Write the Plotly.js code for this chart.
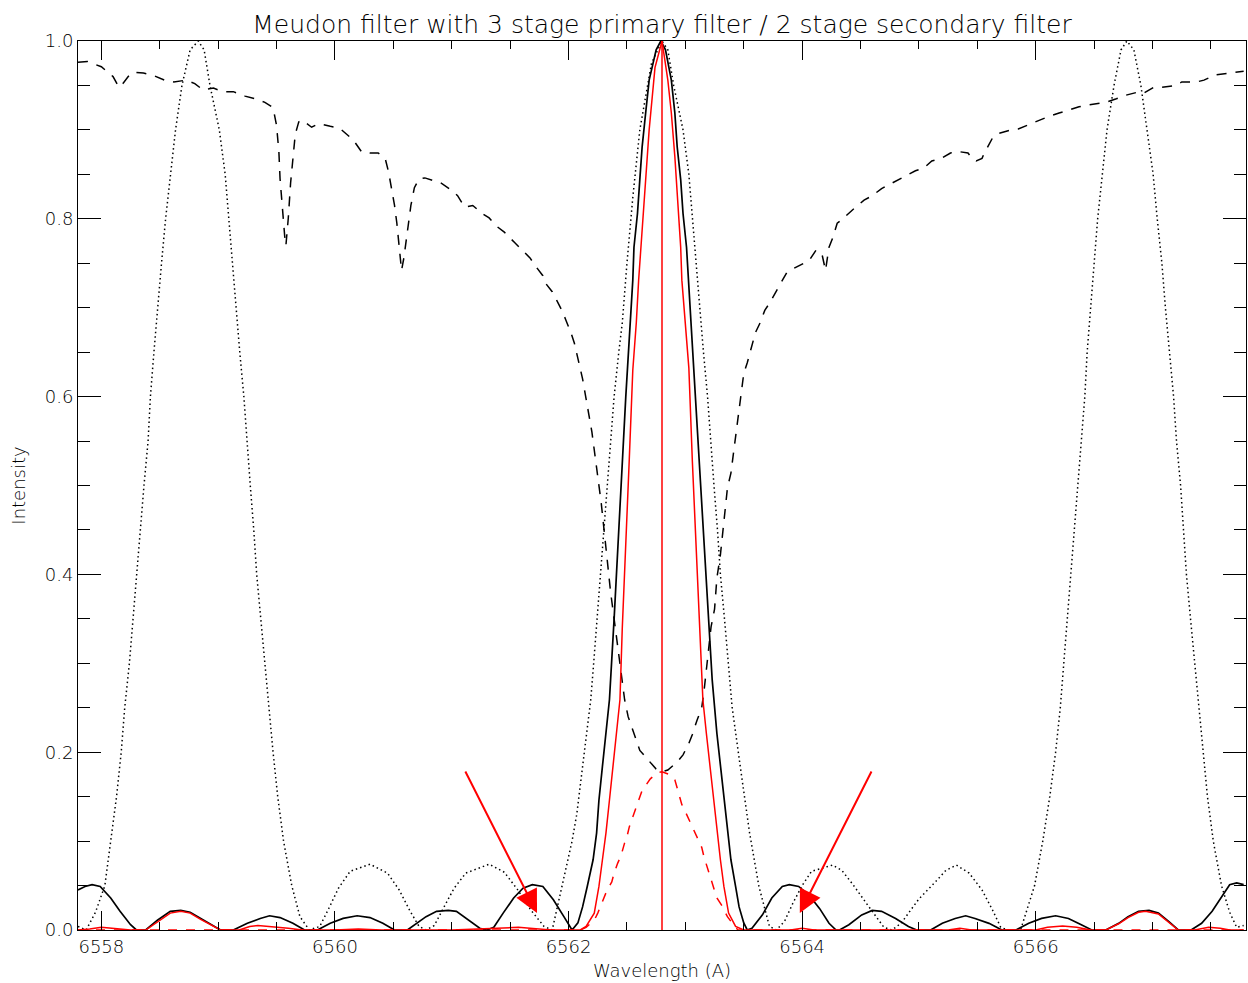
<!DOCTYPE html>
<html>
<head>
<meta charset="utf-8">
<script src="https://cdn.plot.ly/plotly-3.0.1.min.js"></script>
<style>
  html, body { margin: 0; padding: 0; background: #fff; }
  #chart { width: 1248px; height: 983px; }
</style>
</head>
<body>
<div id="chart"></div>
<script>
// ---------- Data ----------
// Secondary filter (2 stage) transmission - dotted black
const secondaryWl = [6557.80,6557.87,6557.95,6558.03,6558.08,6558.13,6558.17,6558.20,6558.24,6558.27,6558.305,6558.33,6558.365,6558.40,6558.42,6558.45,6558.48,6558.515,6558.55,6558.59,6558.635,6558.69,6558.76,6558.83,6558.88,6558.93,6559.01,6559.06,6559.09,6559.12,6559.15,6559.185,6559.22,6559.245,6559.275,6559.305,6559.33,6559.365,6559.40,6559.43,6559.47,6559.51,6559.56,6559.63,6559.70,6559.78,
  6559.87,6559.95,6560.03,6560.13,6560.30,6560.45,6560.55,6560.64,6560.72,6560.78,
  6560.85,6560.93,6561.02,6561.12,6561.32,6561.45,6561.56,6561.68,6561.79,6561.86,
  6561.92,6561.98,6562.03,6562.07,6562.12,6562.15,6562.19,6562.215,6562.245,6562.275,6562.30,6562.335,6562.365,6562.39,6562.43,6562.46,6562.50,6562.55,6562.61,6562.71,6562.80,
  6562.85,6562.90,6562.98,6563.03,6563.06,6563.09,6563.12,6563.155,6563.19,6563.215,6563.245,6563.275,6563.30,6563.335,6563.37,6563.40,6563.47,6563.55,6563.63,6563.72,6563.78,
  6563.85,6563.92,6564.00,6564.08,6564.26,6564.34,6564.43,6564.55,6564.63,6564.70,6564.77,
  6564.85,6564.93,6565.00,6565.14,6565.23,6565.32,6565.43,6565.54,6565.63,6565.70,6565.76,
  6565.87,6565.92,6565.99,6566.06,6566.12,6566.17,6566.21,6566.24,6566.27,6566.305,6566.33,6566.365,6566.39,6566.42,6566.44,6566.47,6566.50,6566.53,6566.57,6566.61,6566.67,6566.73,6566.78,
  6566.84,6566.90,6566.95,6567.005,6567.04,6567.08,6567.11,6567.145,6567.18,6567.205,6567.24,6567.265,6567.29,6567.325,6567.36,6567.40,6567.43,6567.47,6567.52,6567.59,6567.66,6567.72,6567.78];
const secondaryT = [0.004,0.0,0.02,0.05,0.10,0.15,0.20,0.25,0.30,0.35,0.40,0.45,0.50,0.55,0.60,0.65,0.70,0.75,0.80,0.85,0.90,0.95,0.99,1.0,0.99,0.95,0.90,0.85,0.80,0.75,0.70,0.65,0.60,0.55,0.50,0.45,0.40,0.35,0.30,0.25,0.20,0.15,0.10,0.05,0.015,0.0,
  0.004,0.025,0.047,0.066,0.074,0.064,0.045,0.022,0.004,0.0,
  0.005,0.025,0.047,0.064,0.074,0.065,0.046,0.022,0.004,0.0,
  0.034,0.071,0.10,0.13,0.183,0.22,0.259,0.30,0.35,0.40,0.45,0.50,0.55,0.60,0.65,0.683,0.75,0.824,0.90,0.975,1.0,
  0.99,0.95,0.90,0.85,0.80,0.75,0.70,0.65,0.60,0.55,0.50,0.45,0.40,0.35,0.30,0.251,0.184,0.109,0.049,0.004,0.0,
  0.01,0.03,0.05,0.066,0.073,0.067,0.052,0.030,0.015,0.003,0.0,
  0.008,0.0225,0.035,0.054,0.067,0.073,0.064,0.045,0.0225,0.003,0.0,
  0.0,0.02,0.05,0.10,0.15,0.20,0.25,0.30,0.35,0.40,0.45,0.50,0.55,0.60,0.65,0.70,0.75,0.80,0.85,0.90,0.95,0.99,1.0,
  0.99,0.95,0.90,0.85,0.80,0.75,0.70,0.65,0.60,0.55,0.50,0.45,0.40,0.35,0.30,0.25,0.20,0.15,0.10,0.05,0.02,0.003,0.005];

// Solar H-alpha spectrum - dashed black
const spectrumWl = [6557.80,6557.88,6558.00,6558.05,6558.10,6558.15,6558.19,6558.23,6558.27,6558.36,6558.45,6558.54,6558.62,6558.73,6558.80,6558.87,6558.96,6559.04,6559.13,6559.23,6559.32,6559.40,6559.47,6559.50,6559.52,6559.53,6559.55,6559.57,6559.58,6559.60,6559.62,6559.64,6559.66,6559.69,6559.72,6559.80,6559.86,6559.96,6560.04,6560.11,6560.16,6560.23,6560.30,6560.37,6560.43,6560.46,6560.49,6560.51,6560.53,6560.55,6560.57,6560.59,6560.61,6560.63,6560.65,6560.68,6560.72,6560.77,6560.91,6561.00,6561.05,6561.11,6561.18,6561.27,6561.32,6561.39,6561.45,6561.54,6561.60,6561.67,6561.71,6561.78,6561.80,6561.86,6561.90,6561.95,6561.98,6562.02,6562.05,6562.08,6562.12,6562.16,6562.20,6562.24,6562.28,6562.32,6562.36,6562.40,6562.44,6562.48,6562.51,6562.54,6562.58,6562.61,6562.67,6562.70,6562.75,6562.80,6562.85,6562.93,6562.98,6563.03,6563.06,6563.10,6563.14,6563.16,6563.19,6563.22,6563.25,6563.27,6563.30,6563.32,6563.34,6563.36,6563.39,6563.42,6563.45,6563.47,6563.50,6563.53,6563.56,6563.60,6563.64,6563.68,6563.72,6563.77,6563.81,6563.87,6563.91,6564.02,6564.06,6564.12,6564.17,6564.20,6564.23,6564.26,6564.30,6564.33,6564.40,6564.44,6564.53,6564.60,6564.68,6564.74,6564.83,6564.89,6564.97,6565.04,6565.11,6565.19,6565.27,6565.32,6565.42,6565.46,6565.49,6565.54,6565.56,6565.63,6565.68,6565.79,6565.85,6565.96,6566.03,6566.11,6566.20,6566.28,6566.37,6566.45,6566.60,6566.69,6566.77,6566.86,6566.92,6567.01,6567.08,6567.20,6567.25,6567.38,6567.44,6567.54,6567.61,6567.72,6567.78];
const spectrumI = [0.976,0.977,0.971,0.966,0.960,0.948,0.953,0.960,0.965,0.964,0.961,0.956,0.954,0.956,0.952,0.945,0.947,0.943,0.943,0.938,0.935,0.931,0.925,0.905,0.875,0.845,0.810,0.780,0.770,0.800,0.840,0.870,0.895,0.909,0.911,0.903,0.907,0.904,0.902,0.894,0.888,0.875,0.874,0.874,0.868,0.852,0.830,0.815,0.795,0.772,0.742,0.756,0.775,0.800,0.815,0.835,0.845,0.846,0.840,0.832,0.826,0.813,0.815,0.805,0.801,0.791,0.785,0.773,0.765,0.756,0.748,0.736,0.728,0.718,0.708,0.695,0.685,0.672,0.660,0.643,0.620,0.590,0.560,0.520,0.480,0.430,0.380,0.340,0.300,0.259,0.240,0.228,0.214,0.202,0.193,0.188,0.181,0.178,0.180,0.189,0.197,0.210,0.220,0.236,0.250,0.269,0.308,0.341,0.361,0.396,0.422,0.448,0.475,0.497,0.514,0.544,0.572,0.597,0.626,0.638,0.652,0.672,0.683,0.697,0.705,0.717,0.725,0.740,0.743,0.750,0.753,0.765,0.760,0.742,0.768,0.778,0.795,0.798,0.807,0.811,0.821,0.826,0.834,0.838,0.844,0.848,0.854,0.857,0.865,0.868,0.874,0.876,0.874,0.867,0.865,0.868,0.874,0.891,0.896,0.900,0.901,0.907,0.911,0.915,0.919,0.922,0.926,0.928,0.931,0.935,0.939,0.942,0.941,0.948,0.948,0.950,0.954,0.954,0.956,0.962,0.963,0.965,0.966];

// Primary filter (3 stage) transmission - solid black
const primaryWl = [6557.80,6557.86,6557.92,6557.99,6558.08,6558.16,6558.25,6558.30,6558.38,6558.48,6558.59,6558.68,6558.76,6558.85,6558.96,6559.02,6559.13,6559.25,6559.36,6559.44,6559.53,6559.64,6559.74,6559.85,6559.96,6560.07,6560.19,6560.30,6560.41,6560.51,6560.62,6560.70,6560.78,6560.87,6560.97,6561.04,6561.15,6561.24,6561.30,6561.36,6561.44,6561.53,6561.61,6561.69,6561.78,6561.87,6561.96,6562.03,6562.08,6562.12,6562.16,6562.21,6562.24,6562.26,6562.29,6562.32,6562.35,6562.39,6562.42,6562.45,6562.49,6562.53,6562.55,6562.56,6562.59,6562.61,6562.63,6562.66,6562.69,6562.75,6562.79,6562.83,6562.88,6562.91,6562.93,6562.96,6562.98,6563.01,6563.03,6563.06,6563.10,6563.15,6563.19,6563.23,6563.27,6563.30,6563.33,6563.36,6563.39,6563.43,6563.46,6563.50,6563.53,6563.57,6563.66,6563.74,6563.83,6563.89,6563.97,6564.06,6564.15,6564.23,6564.29,6564.32,6564.40,6564.51,6564.60,6564.68,6564.80,6564.91,6564.98,6565.10,6565.20,6565.31,6565.40,6565.48,6565.60,6565.71,6565.83,6565.94,6566.05,6566.17,6566.28,6566.39,6566.48,6566.60,6566.71,6566.79,6566.88,6566.97,6567.05,6567.14,6567.22,6567.33,6567.42,6567.51,6567.59,6567.66,6567.72,6567.78];
const primaryT = [0.045,0.049,0.051,0.049,0.036,0.021,0.006,0.0,0.0,0.011,0.021,0.022,0.020,0.013,0.004,0.0,0.0,0.0075,0.013,0.016,0.014,0.0075,0.0,0.0,0.0075,0.013,0.016,0.014,0.0075,0.0,0.0,0.007,0.015,0.021,0.022,0.021,0.011,0.002,0.0,0.003,0.019,0.036,0.047,0.051,0.049,0.034,0.015,0.0,0.008,0.026,0.049,0.079,0.109,0.146,0.184,0.221,0.259,0.35,0.42,0.50,0.60,0.683,0.731,0.768,0.806,0.844,0.881,0.919,0.956,0.99,1.0,0.99,0.956,0.919,0.881,0.844,0.806,0.768,0.725,0.657,0.567,0.461,0.381,0.281,0.221,0.184,0.146,0.109,0.079,0.049,0.026,0.008,0.0,0.002,0.017,0.036,0.049,0.051,0.049,0.039,0.024,0.0075,0.0,0.0,0.006,0.017,0.022,0.021,0.013,0.004,0.0,0.0,0.0075,0.013,0.016,0.013,0.0075,0.0,0.0,0.0075,0.013,0.016,0.013,0.006,0.0,0.0,0.0075,0.015,0.021,0.022,0.019,0.0094,0.0,0.0,0.0075,0.021,0.037,0.051,0.053,0.051];

// Combined filter (primary x secondary) - solid red
const combinedWl = [6557.80,6557.90,6558.00,6558.10,6558.25,6558.38,6558.48,6558.59,6558.68,6558.76,6558.85,6558.96,6559.02,6559.18,6559.27,6559.34,6559.45,6559.60,6559.72,6560.00,6560.20,6560.40,6561.00,6561.47,6561.57,6561.67,6561.85,6562.10,6562.15,6562.22,6562.26,6562.29,6562.32,6562.35,6562.38,6562.41,6562.44,6562.46,6562.49,6562.52,6562.55,6562.58,6562.60,6562.62,6562.64,6562.66,6562.69,6562.74,6562.80,6562.85,6562.88,6562.91,6562.94,6562.96,6562.97,6563.00,6563.03,6563.06,6563.09,6563.12,6563.15,6563.18,6563.21,6563.24,6563.27,6563.30,6563.33,6563.37,6563.43,6563.50,6563.90,6564.00,6564.10,6564.60,6565.25,6565.35,6565.45,6566.00,6566.10,6566.23,6566.35,6566.47,6566.60,6566.71,6566.79,6566.88,6566.94,6567.05,6567.14,6567.22,6567.36,6567.48,6567.58,6567.66,6567.78];
const combinedT = [0.0,0.001,0.003,0.002,0.0,0.0,0.009,0.019,0.021,0.019,0.012,0.004,0.0,0.0,0.004,0.005,0.004,0.002,0.0,0.0,0.001,0.0,0.0,0.002,0.003,0.002,0.0,0.0,0.004,0.019,0.049,0.079,0.109,0.146,0.184,0.221,0.259,0.34,0.43,0.53,0.63,0.683,0.731,0.768,0.806,0.844,0.90,0.97,1.0,0.956,0.919,0.87,0.806,0.768,0.731,0.683,0.632,0.527,0.432,0.346,0.259,0.221,0.184,0.146,0.109,0.079,0.049,0.019,0.004,0.0,0.0,0.002,0.0,0.0,0.0,0.002,0.0,0.0,0.003,0.0045,0.003,0.0,0.0,0.007,0.014,0.020,0.021,0.018,0.009,0.0,0.0,0.003,0.002,0.0,0.0];

// Combined filter x spectrum - dashed red
const productWl = [6557.80,6562.10,6562.15,6562.22,6562.25,6562.31,6562.33,6562.37,6562.39,6562.42,6562.45,6562.48,6562.50,6562.52,6562.55,6562.61,6562.63,6562.70,6562.76,6562.80,6562.85,6562.88,6562.91,6562.97,6563.00,6563.05,6563.08,6563.14,6563.16,6563.21,6563.23,6563.27,6563.31,6563.36,6563.40,6563.45,6567.78];
const productI = [0.0,0.0,0.003,0.011,0.019,0.037,0.045,0.054,0.064,0.075,0.084,0.098,0.105,0.116,0.127,0.150,0.157,0.170,0.177,0.178,0.176,0.174,0.169,0.141,0.133,0.118,0.110,0.093,0.082,0.060,0.051,0.036,0.028,0.015,0.008,0.0,0.0];

// H-alpha line centre marker
const centreWl = [6562.8, 6562.8];
const centreY = [0, 1];

// Arrows (tail -> head), in data units
const arrowTailWl = [6561.11, 6564.60];
const arrowTailY = [0.180, 0.180];
const arrowHeadWl = [6561.73, 6563.98];
const arrowHeadY = [0.019, 0.019];

// Tick labels
const xTickVals = [6558, 6560, 6562, 6564, 6566];
const yTickVals = [0.0, 0.2, 0.4, 0.6, 0.8, 1.0];

// ---------- Plot ----------
const FONT = 'DejaVu Sans, sans-serif';

const traces = [
  {x: secondaryWl, y: secondaryT, type: 'scatter', mode: 'lines',
   line: {color: '#000', width: 1.5, dash: '1.5px,3px'}, hoverinfo: 'skip'},
  {x: spectrumWl, y: spectrumI, type: 'scatter', mode: 'lines',
   line: {color: '#000', width: 1.5, dash: '10px,9px'}, hoverinfo: 'skip'},
  {x: primaryWl, y: primaryT, type: 'scatter', mode: 'lines',
   line: {color: '#000', width: 1.7}, hoverinfo: 'skip'},
  {x: combinedWl, y: combinedT, type: 'scatter', mode: 'lines',
   line: {color: '#ff0000', width: 1.5}, hoverinfo: 'skip'},
  {x: productWl, y: productI, type: 'scatter', mode: 'lines',
   line: {color: '#ff0000', width: 1.5, dash: '9px,9px'}, hoverinfo: 'skip'},
  {x: centreWl, y: centreY, type: 'scatter', mode: 'lines',
   line: {color: '#ff0000', width: 1.5}, hoverinfo: 'skip'}
];

const annotations = arrowTailWl.map((_, i) => ({
  x: arrowHeadWl[i], y: arrowHeadY[i], xref: 'x', yref: 'y',
  ax: arrowTailWl[i], ay: arrowTailY[i], axref: 'x', ayref: 'y',
  text: '', showarrow: true, arrowhead: 2, arrowsize: 2.3, arrowwidth: 2,
  arrowcolor: '#ff0000', standoff: 0
}));

const axisCommon = {
  showgrid: false, zeroline: false, showline: true, linecolor: '#000', linewidth: 1,
  mirror: 'allticks', ticks: 'inside', tickcolor: '#000', tickwidth: 1,
  tickfont: {family: FONT, size: 18, color: '#000', weight: 300}
};

const layout = {
  width: 1248, height: 983,
  margin: {l: 78, r: 2, t: 41, b: 53},
  paper_bgcolor: '#fff', plot_bgcolor: '#fff',
  showlegend: false,
  font: {family: FONT, color: '#000'},
  title: {
    text: 'Meudon filter with 3 stage primary filter / 2 stage secondary filter',
    font: {family: FONT, size: 25, color: '#000', weight: 300},
    x: 0.5, xref: 'paper', xanchor: 'center',
    y: 1 - 24 / 983, yref: 'container', yanchor: 'middle'
  },
  xaxis: Object.assign({}, axisCommon, {
    range: [6557.8, 6567.8],
    tickvals: xTickVals, ticktext: xTickVals.map(String),
    ticklen: 19,
    minor: {dtick: 0.5, tick0: 6558, ticks: 'inside', ticklen: 8, tickcolor: '#000', tickwidth: 1, showgrid: false},
    title: {text: 'Wavelength (A)', font: {family: FONT, size: 18, color: '#000', weight: 300}, standoff: 8}
  }),
  yaxis: Object.assign({}, axisCommon, {
    range: [0, 1],
    tickvals: yTickVals, ticktext: yTickVals.map(v => v.toFixed(1)),
    ticklen: 23,
    minor: {dtick: 0.05, tick0: 0, ticks: 'inside', ticklen: 12, tickcolor: '#000', tickwidth: 1, showgrid: false},
    title: {text: 'Intensity', font: {family: FONT, size: 18, color: '#000', weight: 300}, standoff: 14}
  }),
  annotations: annotations
};

Plotly.newPlot('chart', traces, layout, {staticPlot: true, displayModeBar: false});
</script>
</body>
</html>
